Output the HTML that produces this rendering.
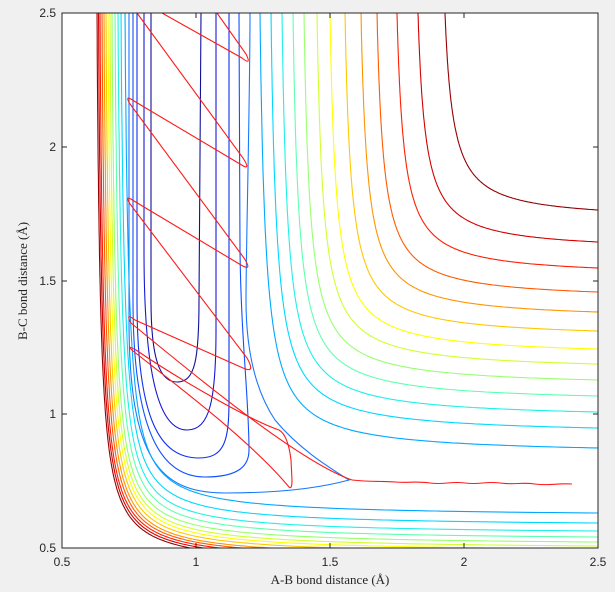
<!DOCTYPE html>
<html><head><meta charset="utf-8"><style>
html,body{margin:0;padding:0;background:#f0f0f0;}
svg{display:block;}
text{font-family:"Liberation Sans",sans-serif;font-size:12px;fill:#262626;}
.lab{font-family:"Liberation Serif",serif;font-size:13px;}
</style></head><body>
<svg id="s" width="615" height="592" xmlns="http://www.w3.org/2000/svg">
<defs><clipPath id="c"><rect x="62" y="13" width="536" height="535"/></clipPath></defs>
<rect x="62" y="13" width="536" height="535" fill="#fff"/>
<g id="cont" clip-path="url(#c)" fill="none" stroke-width="1.1">
<path stroke="#10109a" d="M151 13 L151 300 C151 360 160 382 177 382 C195 382 199 360 199 300 L201 13"/>
<path stroke="#1818d8" d="M144 13 L144 250 C144 380 160 430 187 430 C210 430 216 400 216 330 L216 13"/>
<path stroke="#1030f0" d="M137 13 L137 300 C137 420 160 458 199 458 C225 458 229 440 229 400 L229 13"/>
<path stroke="#1050ff" d="M133 13 L133 300 C133 440 165 477 205 477 C240 477 249 465 249 450 C249 400 241 340 240 250 L239 13"/>
<path stroke="#1878ff" d="M129 13 L129 320 C129 460 160 493 225 493 C280 493 320 488 349 480 C330 468 300 450 275 420 C255 390 246 350 246 300 C246 250 250 100 250 13"/>
</g>
<g clip-path="url(#c)" fill="none" stroke="#ff1a1a" stroke-width="1.1">
<path d="M137,13 L243,158 Q252,172 240,164 L134,101 Q124,94 130,104 L244,258 Q253,272 241,265 L134,201 Q124,194 130,204 L247,358 Q256,374 243,368 L135,320 Q125,312 131,323 C200,380 300,462 352,480"/>
<path d="M352,480 C370,482 380,481 395,482 S415,481 430,483 S450,481 465,483 S485,481 500,483 S520,482 535,484 S555,483 572,484"/>
<path d="M289,487 C250,440 170,380 133,351 Q125,344 136,350 C180,380 250,420 279,430 Q288,435 291,460 L292,480 Q292,490 289,487"/>
<path d="M162,13 L242,58 Q252,66 246,54 L217,13"/>
</g>
<g fill="none" stroke="#262626" stroke-width="1">
<rect x="62" y="13" width="536" height="535"/>
<path d="M62 548v-5M196 548v-5M330 548v-5M464 548v-5M598 548v-5M62 13v5M196 13v5M330 13v5M464 13v5M598 13v5M62 548h5M62 414h5M62 281h5M62 147h5M62 13h5M598 548h-5M598 414h-5M598 281h-5M598 147h-5M598 13h-5"/>
</g>
<g text-anchor="middle">
<text x="62" y="566">0.5</text><text x="196" y="566">1</text><text x="330" y="566">1.5</text><text x="464" y="566">2</text><text x="598" y="566">2.5</text>
</g>
<g text-anchor="end">
<text x="56" y="552">0.5</text><text x="56" y="418">1</text><text x="56" y="285">1.5</text><text x="56" y="151">2</text><text x="56" y="17">2.5</text>
</g>
<text class="lab" x="330" y="584" text-anchor="middle">A-B bond distance (Å)</text>
<text class="lab" transform="translate(27,281) rotate(-90)" text-anchor="middle">B-C bond distance (Å)</text>
</svg>
<script>
var g=document.getElementById('cont');
var cols=['#00a8ff','#00d8ff','#20f0e8','#60ffb0','#98ff70','#d0ff30','#ffff00','#ffc800','#ff9400','#ff5a00','#ff1e00','#d40000','#960000'];
var tops=[260,271,282,293,304,317,330,345,361,377,397,418,445];
var rights=[448,428,412,396,380,364,349,331,312,292,268,242,210];
var lefts=[125,121,118,115,112,110,108,106,104,102,100,98.5,97];
var bots=[513,523,531,537,542,546,549,552,555,557,559,561,563];
function hyp(top,right,c,col){
 var px=top,py=right;
 for(var i=0;i<30;i++){py=right+c/(598-px);px=top-c/(py-13);}
 var d='',n=200,smin=c/(py-10),smax=610-px;
 for(var k=0;k<=n;k++){var s=smin*Math.pow(smax/smin,k/n);var x=px+s,y=py-c/s;d+=(k?'L':'M')+x.toFixed(1)+' '+y.toFixed(1);}
 var p=document.createElementNS('http://www.w3.org/2000/svg','path');
 p.setAttribute('d',d);p.setAttribute('stroke',col);g.appendChild(p);
}
for(var i=0;i<13;i++){
 hyp(tops[i],rights[i],2400-700*i/12,cols[i]);
 hyp(lefts[i],bots[i],1800,cols[i]);
}
</script>
</body></html>
